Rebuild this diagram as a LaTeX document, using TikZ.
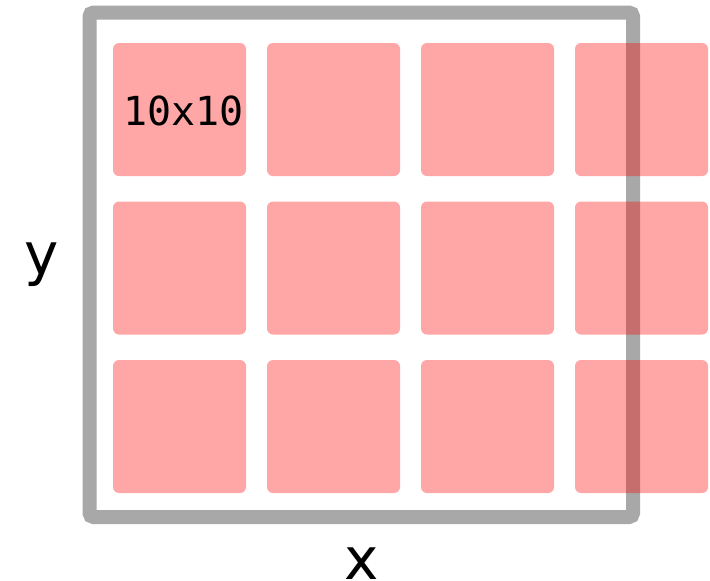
\documentclass[tikz,border=0pt]{standalone}
\usepackage{fontspec}
\setsansfont{DejaVu Sans}
\setmonofont{DejaVu Sans Mono}
\usepackage{tikz}
\definecolor{framegray}{HTML}{A8A8A8}

\begin{document}
\begin{tikzpicture}[x=0.5pt,y=-0.5pt]
    \useasboundingbox (0,0) rectangle (710,580);
    % outer frame
    \draw[framegray, line width=7pt, rounded corners=2pt] (89.5,12.5) rectangle (633,517);
    % 4x3 tiles
    \foreach \c in {0,...,3} {
        \foreach \r in {0,1,2} {
            \fill[red, opacity=0.35, rounded corners=3pt]
              (113+154*\c,43+158.5*\r) rectangle ++(133,133);
          }
      }
    \node[anchor=base, font=\ttfamily\fontsize{20}{24}\selectfont] (tile) at (183.5,125) {10x10};
    \node[anchor=base, font=\sffamily\fontsize{29}{34}\selectfont] (ylab) at (41.5,274) {y};
    \node[anchor=base, font=\sffamily\fontsize{29}{34}\selectfont] (xlab) at (362,579) {x};
  \end{tikzpicture}
\end{document}
